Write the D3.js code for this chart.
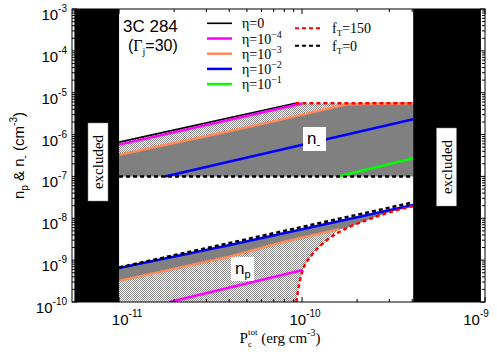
<!DOCTYPE html>
<html lang="en">
<head>
<meta charset="utf-8">
<title>3C 284 densities</title>
<style type="text/css">
body { margin: 0; background: #fff; }
svg text { font-family: "Liberation Sans", Arial, sans-serif; }
.serif { font-family: "Liberation Serif", "Times New Roman", serif; }
</style>
</head>
<body>
<script src="https://cdn.jsdelivr.net/npm/d3@7"></script>
<script>

    // ---- data (P in erg cm^-3, n in cm^-3) ----
    var xMajor = [1e-11, 1e-10, 1e-9];
    var xMajorExp = ["-11", "-10", "-9"];
    var yMajor = [1e-10, 1e-9, 1e-8, 1e-7, 1e-6, 1e-5, 1e-4, 1e-3];
    var yMajorExp = ["-10", "-9", "-8", "-7", "-6", "-5", "-4", "-3"];

    var excludedLeft = [5.7e-12, 1e-11];
    var excludedRight = [4.05e-10, 9.5e-10];

    // n_- (upper family)
    var upEta0   = [[1e-11, 6.6e-7], [9.2e-11, 5.6e-6]];
    var upEta4   = [[1e-11, 5.75e-7], [1.0e-10, 5.5e-6]];
    var upEta3   = [[1e-11, 3.3e-7], [3.56e-11, 1.08e-6], [6.68e-11, 1.98e-6], [1.76e-10, 5.3e-6], [4.05e-10, 5.6e-6]];
    var upEta2   = [[1.78e-11, 1e-7], [4.05e-10, 2.33e-6]];
    var upEta1   = [[1.57e-10, 1e-7], [4.05e-10, 2.73e-7]];
    var upFT150  = [[9.2e-11, 5.6e-6], [4.05e-10, 5.6e-6]];
    var upFT0    = [[1e-11, 1e-7], [4.05e-10, 1e-7]];

    // n_p (lower family)
    var loEta4   = [[1.88e-11, 1e-10], [1.01e-10, 5.8e-10]];
    var loEta3   = [[1e-11, 3.2e-10], [4.0e-11, 1.2e-9], [7.6e-11, 2.6e-9], [1.6e-10, 5.5e-9]];
    var loEta2   = [[1e-11, 6.5e-10], [4.04e-11, 2.29e-9], [4.05e-10, 2.07e-8]];
    var loFT150  = [[9.3e-11, 1e-10], [9.75e-11, 3.35e-10], [1.01e-10, 5.8e-10], [1.13e-10, 1.32e-9],
                    [1.37e-10, 3.02e-9], [1.76e-10, 5.83e-9], [2.26e-10, 9.06e-9], [3.03e-10, 1.41e-8], [4.05e-10, 1.95e-8]];
    var loFT0    = [[1e-11, 6.7e-10], [4.05e-10, 2.4e-8]];

    var legendEta = [
        {label: "0", sup: "", color: "#000000", w: 1.6},
        {label: "10", sup: "\u22124", color: "#ff00ff", w: 2.5},
        {label: "10", sup: "\u22123", color: "#ff8a5c", w: 2.5},
        {label: "10", sup: "\u22122", color: "#0000ff", w: 2.5},
        {label: "10", sup: "\u22121", color: "#00ff00", w: 2.5}
    ];
    var legendFT = [
        {label: "150", color: "#ff0000"},
        {label: "0", color: "#000000"}
    ];

    var W = 497, H = 354;
    var plot = {left: 72, right: 485, top: 9, bottom: 302};

    var svg = d3.select("body").append("svg")
        .attr("width", W)
        .attr("height", H);

    var x = d3.scaleLog()
        .domain([5.53e-12, 1e-9])
        .range([plot.left, plot.right]);
    var y = d3.scaleLog()
        .domain([1e-10, 1e-3])
        .range([plot.bottom, plot.top]);

    var defs = svg.append("defs");
    defs.append("clipPath").attr("id", "clip")
        .append("rect")
        .attr("x", plot.left).attr("y", plot.top)
        .attr("width", plot.right - plot.left)
        .attr("height", plot.bottom - plot.top);

    var pat = defs.append("pattern").attr("id", "hatch")
        .attr("patternUnits", "userSpaceOnUse")
        .attr("width", 2).attr("height", 2);
    pat.append("rect").attr("width", 2).attr("height", 2).attr("fill", "#ffffff");
    pat.append("rect").attr("x", 0).attr("y", 0).attr("width", 1).attr("height", 1).attr("fill", "#8a8a8a");
    pat.append("rect").attr("x", 1).attr("y", 1).attr("width", 1).attr("height", 1).attr("fill", "#8a8a8a");

    var line = d3.line()
        .x(function(d){ return x(d[0]); })
        .y(function(d){ return y(d[1]); });
    var smooth = d3.line()
        .x(function(d){ return x(d[0]); })
        .y(function(d){ return y(d[1]); })
        .curve(d3.curveMonotoneX);
    var poly = d3.line()
        .x(function(d){ return x(d[0]); })
        .y(function(d){ return y(d[1]); })
        .curve(d3.curveLinearClosed);

    var g = svg.append("g").attr("clip-path", "url(#clip)");

    // ---- filled regions ----
    var upGrey = upEta3.concat([[upFT0[1][0], upFT0[1][1]], [upFT0[0][0], upFT0[0][1]]]);
    var upHatch = upEta0.concat(upFT150.slice(1)).concat(upEta3.slice().reverse());

    var lastOrange = loEta3[loEta3.length - 1][0];
    var redRight = loFT150.filter(function(d){ return d[0] > lastOrange; });
    var redLeft = loFT150.filter(function(d){ return d[0] <= lastOrange; });
    var loGrey = loEta2.concat(redRight.slice().reverse()).concat(loEta3.slice().reverse());
    var loHatch = loEta3.concat(redLeft.slice().reverse()).concat([[loEta3[0][0], 1e-10]]);

    g.append("path").attr("d", poly(upGrey)).attr("fill", "#808080");
    g.append("path").attr("d", poly(upHatch)).attr("fill", "url(#hatch)");
    g.append("path").attr("d", poly(loGrey)).attr("fill", "#808080");
    g.append("path").attr("d", poly(loHatch)).attr("fill", "url(#hatch)");

    // ---- eta and f_T lines ----
    function drawLine(data, color, w, dash, gen) {
        g.append("path")
            .attr("d", (gen || line)(data))
            .attr("fill", "none")
            .attr("stroke", color)
            .attr("stroke-width", w)
            .attr("stroke-dasharray", dash || null);
    }

    drawLine(upEta3, "#ff8a5c", 2.5);
    drawLine(loEta3, "#ff8a5c", 2.5);
    drawLine(upEta0, "#000000", 1.6);
    drawLine(upEta4, "#ff00ff", 2.5);
    drawLine(loEta4, "#ff00ff", 2.5);
    drawLine(upEta2, "#0000ff", 2.5);
    drawLine(loEta2, "#0000ff", 2.5);
    drawLine(upEta1, "#00ff00", 2.5);

    drawLine(upFT0, "#000000", 2.5, "4,3");
    drawLine(loFT0, "#000000", 2.5, "4,3");
    drawLine(upFT150, "#ff0000", 2.5, "4,3");
    drawLine(loFT150, "#ff0000", 2.5, "4,3", smooth);

    // ---- excluded bands ----
    [excludedLeft, excludedRight].forEach(function(e){
        g.append("rect")
            .attr("x", x(e[0]))
            .attr("y", plot.top)
            .attr("width", x(e[1]) - x(e[0]))
            .attr("height", plot.bottom - plot.top)
            .attr("fill", "#000");
    });

    function excludedLabel(cx, cy) {
        svg.append("rect")
            .attr("x", cx - 10).attr("y", cy - 39)
            .attr("width", 20).attr("height", 78)
            .attr("fill", "#fff").attr("stroke", "#888").attr("stroke-width", 0.5);
        svg.append("text")
            .attr("class", "serif")
            .attr("transform", "translate(" + (cx + 5) + "," + cy + ") rotate(-90)")
            .attr("text-anchor", "middle")
            .attr("font-size", 15)
            .text("excluded");
    }
    excludedLabel(98, 162);
    excludedLabel(446.5, 167);

    // ---- n labels ----
    function nLabel(px, py, sub) {
        svg.append("rect")
            .attr("x", px).attr("y", py)
            .attr("width", 23).attr("height", 24)
            .attr("fill", "#fff");
        var t = svg.append("text")
            .attr("x", px + 4).attr("y", py + 17)
            .attr("font-size", 17);
        t.append("tspan").text("n");
        t.append("tspan").attr("font-size", 11).attr("dy", 4).text(sub);
    }
    nLabel(303, 127, "-");
    nLabel(231, 257, "p");

    // ---- axes frame and ticks ----
    function minorTicks(lo, hi) {
        var out = [];
        for (var e = Math.floor(Math.log10(lo)); e <= Math.ceil(Math.log10(hi)); e++) {
            for (var k = 2; k <= 9; k++) {
                var v = k * Math.pow(10, e);
                if (v > lo && v < hi) out.push(v);
            }
        }
        return out;
    }
    var xMinor = minorTicks(x.domain()[0], x.domain()[1]);
    var yMinor = minorTicks(y.domain()[0], y.domain()[1]);

    var axes = svg.append("g").attr("stroke", "#000").attr("stroke-width", 1);
    function ticks(vals, len) {
        vals.forEach(function(v){
            var xv = x(v);
            axes.append("line").attr("x1", xv).attr("x2", xv).attr("y1", plot.bottom).attr("y2", plot.bottom - len);
            axes.append("line").attr("x1", xv).attr("x2", xv).attr("y1", plot.top).attr("y2", plot.top + len);
        });
    }
    function yticks(vals, len) {
        vals.forEach(function(v){
            var yv = y(v);
            axes.append("line").attr("x1", plot.left).attr("x2", plot.left + len).attr("y1", yv).attr("y2", yv);
            axes.append("line").attr("x1", plot.right).attr("x2", plot.right - len).attr("y1", yv).attr("y2", yv);
        });
    }
    ticks(xMinor, 3);
    ticks(xMajor, 5);
    yticks(yMinor, 3);
    yticks(yMajor, 5);

    axes.append("rect")
        .attr("x", plot.left).attr("y", plot.top)
        .attr("width", plot.right - plot.left)
        .attr("height", plot.bottom - plot.top)
        .attr("fill", "none");

    // tick labels
    var xLabelShift = [8, 3, -9];
    xMajor.forEach(function(v, i){
        var t = svg.append("text")
            .attr("x", x(v) + xLabelShift[i]).attr("y", 325)
            .attr("text-anchor", "middle")
            .attr("font-size", 15);
        t.append("tspan").text("10");
        t.append("tspan").attr("font-size", 10).attr("dy", -8).text(xMajorExp[i]);
    });
    yMajor.forEach(function(v, i){
        var t = svg.append("text")
            .attr("x", 67).attr("y", y(v) + 11)
            .attr("text-anchor", "end")
            .attr("font-size", 15);
        t.append("tspan").text("10");
        t.append("tspan").attr("font-size", 10).attr("dy", -8).text(yMajorExp[i]);
    });

    // axis titles
    var xt = svg.append("text")
        .attr("class", "serif")
        .attr("x", 280).attr("y", 343)
        .attr("text-anchor", "middle")
        .attr("font-size", 15);
    xt.append("tspan").text("P");
    xt.append("tspan").attr("font-size", 9).attr("dy", 4).text("c");
    xt.append("tspan").attr("font-size", 9).attr("dx", -4).attr("dy", -12).text("tot");
    xt.append("tspan").attr("dy", 8).text(" (erg cm");
    xt.append("tspan").attr("font-size", 10).attr("dy", -7).text("-3");
    xt.append("tspan").attr("dy", 7).text(")");

    var yt = svg.append("text")
        .attr("transform", "translate(24," + ((plot.top + plot.bottom) / 2) + ") rotate(-90)")
        .attr("text-anchor", "middle")
        .attr("font-size", 15);
    yt.append("tspan").text("n");
    yt.append("tspan").attr("font-size", 10).attr("dy", 4).text("p");
    yt.append("tspan").attr("dy", -4).text(" & n");
    yt.append("tspan").attr("font-size", 10).attr("dy", 4).text("-");
    yt.append("tspan").attr("dy", -4).text(" (cm");
    yt.append("tspan").attr("font-size", 10).attr("dy", -7).text("-3");
    yt.append("tspan").attr("dy", 7).text(")");

    // ---- title ----
    svg.append("text").attr("x", 123).attr("y", 32).attr("font-size", 17).text("3C 284");
    var st = svg.append("text").attr("x", 128).attr("y", 51).attr("font-size", 16);
    st.append("tspan").text("(");
    st.append("tspan").attr("class", "serif").text("\u0393");
    st.append("tspan").attr("class", "serif").attr("font-size", 10).attr("dy", 4).text("j");
    st.append("tspan").attr("dy", -4).text("=30)");

    // ---- legend ----
    legendEta.forEach(function(d, i){
        var ly = 23.3 + i * 15.2;
        svg.append("line")
            .attr("x1", 207).attr("x2", 232)
            .attr("y1", ly).attr("y2", ly)
            .attr("stroke", d.color).attr("stroke-width", d.w);
        var t = svg.append("text").attr("class", "serif")
            .attr("x", 242).attr("y", ly + 5).attr("font-size", 14);
        t.append("tspan").text("\u03b7=" + d.label);
        if (d.sup) t.append("tspan").attr("font-size", 10).attr("dy", -6).text(d.sup);
    });
    legendFT.forEach(function(d, i){
        var ly = 28.3 + i * 17.4;
        svg.append("line")
            .attr("x1", 295).attr("x2", 320)
            .attr("y1", ly).attr("y2", ly)
            .attr("stroke", d.color).attr("stroke-width", 2)
            .attr("stroke-dasharray", "4,3");
        var t = svg.append("text").attr("class", "serif")
            .attr("x", 332).attr("y", ly + 5).attr("font-size", 14);
        t.append("tspan").text("f");
        t.append("tspan").attr("font-size", 9).attr("dy", 3).text("T");
        t.append("tspan").attr("dy", -3).text("=" + d.label);
    });

</script>
</body>
</html>
